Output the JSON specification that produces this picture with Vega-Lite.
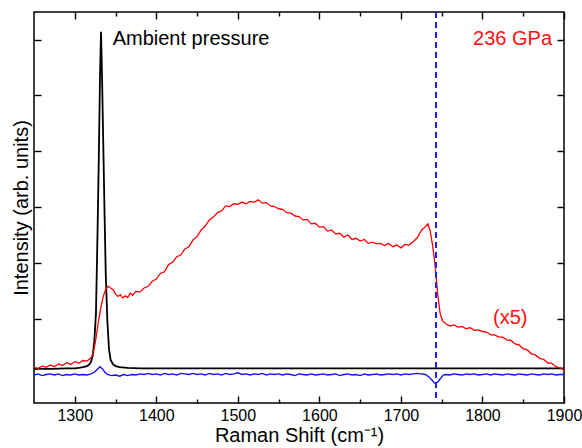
{
  "$schema": "https://vega.github.io/schema/vega-lite/v6.json",
  "width": 530,
  "height": 391,
  "autosize": {"type": "none"},
  "padding": {"left": 34, "top": 12, "right": 18, "bottom": 45},
  "background": "white",
  "config": {
    "view": {"stroke": "#000000", "strokeWidth": 1.5},
    "font": "Liberation Sans",
    "axis": {"domain": false, "grid": false, "tickColor": "#000000", "tickWidth": 1.4, "labelFont": "Liberation Sans", "titleFont": "Liberation Sans", "labelColor": "#000000", "titleColor": "#000000", "titleFontWeight": "normal"}
  },
  "datasets": {
    "spectra": [
        {"s":"236 GPa","x":1250,"y":0.13},{"s":"236 GPa","x":1255,"y":0.11},{"s":"236 GPa","x":1260,"y":0.15},{"s":"236 GPa","x":1265,"y":0.13},{"s":"236 GPa","x":1270,"y":0.17},{"s":"236 GPa","x":1275,"y":0.14},{"s":"236 GPa","x":1280,"y":0.19},{"s":"236 GPa","x":1285,"y":0.16},{"s":"236 GPa","x":1290,"y":0.21},{"s":"236 GPa","x":1295,"y":0.18},{"s":"236 GPa","x":1300,"y":0.23},{"s":"236 GPa","x":1305,"y":0.20},{"s":"236 GPa","x":1310,"y":0.25},{"s":"236 GPa","x":1315,"y":0.24},{"s":"236 GPa","x":1320,"y":0.30},{"s":"236 GPa","x":1323,"y":0.40},{"s":"236 GPa","x":1326,"y":0.65},{"s":"236 GPa","x":1329,"y":0.95},{"s":"236 GPa","x":1332,"y":1.20},{"s":"236 GPa","x":1335,"y":1.40},{"s":"236 GPa","x":1338,"y":1.53},{"s":"236 GPa","x":1341,"y":1.58},{"s":"236 GPa","x":1344,"y":1.55},{"s":"236 GPa","x":1347,"y":1.52},{"s":"236 GPa","x":1350,"y":1.44},{"s":"236 GPa","x":1353,"y":1.40},{"s":"236 GPa","x":1356,"y":1.43},{"s":"236 GPa","x":1359,"y":1.37},{"s":"236 GPa","x":1362,"y":1.41},{"s":"236 GPa","x":1365,"y":1.38},{"s":"236 GPa","x":1368,"y":1.46},{"s":"236 GPa","x":1371,"y":1.42},{"s":"236 GPa","x":1375,"y":1.49},{"s":"236 GPa","x":1380,"y":1.48},{"s":"236 GPa","x":1385,"y":1.55},{"s":"236 GPa","x":1390,"y":1.58},{"s":"236 GPa","x":1395,"y":1.67},{"s":"236 GPa","x":1400,"y":1.71},{"s":"236 GPa","x":1405,"y":1.81},{"s":"236 GPa","x":1410,"y":1.84},{"s":"236 GPa","x":1415,"y":1.97},{"s":"236 GPa","x":1420,"y":2.01},{"s":"236 GPa","x":1425,"y":2.11},{"s":"236 GPa","x":1430,"y":2.14},{"s":"236 GPa","x":1435,"y":2.25},{"s":"236 GPa","x":1440,"y":2.29},{"s":"236 GPa","x":1445,"y":2.41},{"s":"236 GPa","x":1450,"y":2.47},{"s":"236 GPa","x":1455,"y":2.59},{"s":"236 GPa","x":1460,"y":2.66},{"s":"236 GPa","x":1465,"y":2.77},{"s":"236 GPa","x":1470,"y":2.82},{"s":"236 GPa","x":1475,"y":2.90},{"s":"236 GPa","x":1480,"y":2.93},{"s":"236 GPa","x":1485,"y":3.02},{"s":"236 GPa","x":1490,"y":3.01},{"s":"236 GPa","x":1495,"y":3.06},{"s":"236 GPa","x":1500,"y":3.05},{"s":"236 GPa","x":1505,"y":3.09},{"s":"236 GPa","x":1510,"y":3.06},{"s":"236 GPa","x":1515,"y":3.10},{"s":"236 GPa","x":1520,"y":3.09},{"s":"236 GPa","x":1525,"y":3.13},{"s":"236 GPa","x":1530,"y":3.07},{"s":"236 GPa","x":1535,"y":3.08},{"s":"236 GPa","x":1540,"y":3.02},{"s":"236 GPa","x":1545,"y":3.01},{"s":"236 GPa","x":1550,"y":2.97},{"s":"236 GPa","x":1555,"y":2.96},{"s":"236 GPa","x":1560,"y":2.90},{"s":"236 GPa","x":1565,"y":2.89},{"s":"236 GPa","x":1570,"y":2.84},{"s":"236 GPa","x":1575,"y":2.83},{"s":"236 GPa","x":1580,"y":2.77},{"s":"236 GPa","x":1585,"y":2.78},{"s":"236 GPa","x":1590,"y":2.70},{"s":"236 GPa","x":1595,"y":2.71},{"s":"236 GPa","x":1600,"y":2.64},{"s":"236 GPa","x":1605,"y":2.65},{"s":"236 GPa","x":1610,"y":2.57},{"s":"236 GPa","x":1615,"y":2.59},{"s":"236 GPa","x":1620,"y":2.52},{"s":"236 GPa","x":1625,"y":2.53},{"s":"236 GPa","x":1630,"y":2.46},{"s":"236 GPa","x":1635,"y":2.50},{"s":"236 GPa","x":1640,"y":2.42},{"s":"236 GPa","x":1645,"y":2.44},{"s":"236 GPa","x":1650,"y":2.39},{"s":"236 GPa","x":1655,"y":2.42},{"s":"236 GPa","x":1660,"y":2.35},{"s":"236 GPa","x":1665,"y":2.37},{"s":"236 GPa","x":1670,"y":2.34},{"s":"236 GPa","x":1675,"y":2.35},{"s":"236 GPa","x":1680,"y":2.31},{"s":"236 GPa","x":1685,"y":2.35},{"s":"236 GPa","x":1690,"y":2.29},{"s":"236 GPa","x":1695,"y":2.32},{"s":"236 GPa","x":1700,"y":2.27},{"s":"236 GPa","x":1705,"y":2.33},{"s":"236 GPa","x":1710,"y":2.32},{"s":"236 GPa","x":1715,"y":2.38},{"s":"236 GPa","x":1720,"y":2.45},{"s":"236 GPa","x":1725,"y":2.58},{"s":"236 GPa","x":1730,"y":2.65},{"s":"236 GPa","x":1733,"y":2.70},{"s":"236 GPa","x":1736,"y":2.57},{"s":"236 GPa","x":1739,"y":2.30},{"s":"236 GPa","x":1742,"y":1.95},{"s":"236 GPa","x":1745,"y":1.45},{"s":"236 GPa","x":1748,"y":1.10},{"s":"236 GPa","x":1751,"y":0.96},{"s":"236 GPa","x":1755,"y":0.91},{"s":"236 GPa","x":1760,"y":0.87},{"s":"236 GPa","x":1765,"y":0.89},{"s":"236 GPa","x":1770,"y":0.85},{"s":"236 GPa","x":1775,"y":0.86},{"s":"236 GPa","x":1780,"y":0.82},{"s":"236 GPa","x":1785,"y":0.84},{"s":"236 GPa","x":1790,"y":0.79},{"s":"236 GPa","x":1795,"y":0.80},{"s":"236 GPa","x":1800,"y":0.77},{"s":"236 GPa","x":1805,"y":0.76},{"s":"236 GPa","x":1810,"y":0.71},{"s":"236 GPa","x":1815,"y":0.71},{"s":"236 GPa","x":1820,"y":0.67},{"s":"236 GPa","x":1825,"y":0.67},{"s":"236 GPa","x":1830,"y":0.62},{"s":"236 GPa","x":1835,"y":0.61},{"s":"236 GPa","x":1840,"y":0.55},{"s":"236 GPa","x":1845,"y":0.53},{"s":"236 GPa","x":1850,"y":0.46},{"s":"236 GPa","x":1855,"y":0.44},{"s":"236 GPa","x":1860,"y":0.37},{"s":"236 GPa","x":1865,"y":0.35},{"s":"236 GPa","x":1870,"y":0.29},{"s":"236 GPa","x":1875,"y":0.27},{"s":"236 GPa","x":1880,"y":0.21},{"s":"236 GPa","x":1885,"y":0.20},{"s":"236 GPa","x":1890,"y":0.14},{"s":"236 GPa","x":1895,"y":0.12},{"s":"236 GPa","x":1900,"y":0.08},
        {"s":"ambient","x":1250,"y":0.10},{"s":"ambient","x":1270,"y":0.10},{"s":"ambient","x":1290,"y":0.11},{"s":"ambient","x":1300,"y":0.11},{"s":"ambient","x":1305,"y":0.12},{"s":"ambient","x":1310,"y":0.13},{"s":"ambient","x":1315,"y":0.15},{"s":"ambient","x":1318,"y":0.18},{"s":"ambient","x":1320,"y":0.23},{"s":"ambient","x":1322,"y":0.34},{"s":"ambient","x":1324,"y":0.6},{"s":"ambient","x":1326,"y":1.1},{"s":"ambient","x":1328,"y":2.6},{"s":"ambient","x":1329.5,"y":3.9},{"s":"ambient","x":1331,"y":5.4},{"s":"ambient","x":1332.2,"y":6.14},{"s":"ambient","x":1333.5,"y":5.3},{"s":"ambient","x":1335,"y":4.1},{"s":"ambient","x":1336.5,"y":2.9},{"s":"ambient","x":1338,"y":1.8},{"s":"ambient","x":1340,"y":0.95},{"s":"ambient","x":1342,"y":0.45},{"s":"ambient","x":1344,"y":0.26},{"s":"ambient","x":1347,"y":0.18},{"s":"ambient","x":1350,"y":0.15},{"s":"ambient","x":1355,"y":0.13},{"s":"ambient","x":1365,"y":0.12},{"s":"ambient","x":1380,"y":0.11},{"s":"ambient","x":1500,"y":0.11},{"s":"ambient","x":1700,"y":0.11},{"s":"ambient","x":1900,"y":0.11},
        {"s":"difference","x":1250,"y":-0.01},{"s":"difference","x":1255,"y":0.01},{"s":"difference","x":1260,"y":-0.02},{"s":"difference","x":1265,"y":0.0},{"s":"difference","x":1270,"y":0.01},{"s":"difference","x":1275,"y":-0.01},{"s":"difference","x":1280,"y":0.01},{"s":"difference","x":1285,"y":-0.02},{"s":"difference","x":1290,"y":0.0},{"s":"difference","x":1295,"y":-0.01},{"s":"difference","x":1300,"y":0.01},{"s":"difference","x":1305,"y":-0.01},{"s":"difference","x":1310,"y":0.0},{"s":"difference","x":1315,"y":-0.01},{"s":"difference","x":1320,"y":0.01},{"s":"difference","x":1324,"y":0.04},{"s":"difference","x":1328,"y":0.10},{"s":"difference","x":1331,"y":0.14},{"s":"difference","x":1334,"y":0.10},{"s":"difference","x":1337,"y":0.04},{"s":"difference","x":1340,"y":0.0},{"s":"difference","x":1345,"y":-0.02},{"s":"difference","x":1350,"y":-0.01},{"s":"difference","x":1355,"y":-0.03},{"s":"difference","x":1360,"y":0.0},{"s":"difference","x":1365,"y":-0.02},{"s":"difference","x":1370,"y":0.0},{"s":"difference","x":1375,"y":-0.01},{"s":"difference","x":1380,"y":0.01},{"s":"difference","x":1385,"y":0.0},{"s":"difference","x":1390,"y":0.02},{"s":"difference","x":1395,"y":0.0},{"s":"difference","x":1400,"y":0.01},{"s":"difference","x":1405,"y":-0.01},{"s":"difference","x":1410,"y":0.02},{"s":"difference","x":1415,"y":0.0},{"s":"difference","x":1420,"y":0.01},{"s":"difference","x":1425,"y":-0.01},{"s":"difference","x":1430,"y":0.02},{"s":"difference","x":1435,"y":0.01},{"s":"difference","x":1440,"y":0.0},{"s":"difference","x":1445,"y":0.02},{"s":"difference","x":1450,"y":0.0},{"s":"difference","x":1455,"y":0.01},{"s":"difference","x":1460,"y":-0.01},{"s":"difference","x":1465,"y":0.02},{"s":"difference","x":1470,"y":0.0},{"s":"difference","x":1475,"y":0.01},{"s":"difference","x":1480,"y":-0.01},{"s":"difference","x":1485,"y":0.02},{"s":"difference","x":1490,"y":0.0},{"s":"difference","x":1495,"y":0.01},{"s":"difference","x":1500,"y":0.03},{"s":"difference","x":1505,"y":0.0},{"s":"difference","x":1510,"y":0.01},{"s":"difference","x":1515,"y":-0.01},{"s":"difference","x":1520,"y":0.01},{"s":"difference","x":1525,"y":0.0},{"s":"difference","x":1530,"y":0.02},{"s":"difference","x":1535,"y":-0.01},{"s":"difference","x":1540,"y":0.01},{"s":"difference","x":1545,"y":0.0},{"s":"difference","x":1550,"y":0.01},{"s":"difference","x":1555,"y":-0.01},{"s":"difference","x":1560,"y":0.01},{"s":"difference","x":1565,"y":0.0},{"s":"difference","x":1570,"y":-0.02},{"s":"difference","x":1575,"y":0.01},{"s":"difference","x":1580,"y":0.0},{"s":"difference","x":1585,"y":-0.01},{"s":"difference","x":1590,"y":0.01},{"s":"difference","x":1595,"y":-0.01},{"s":"difference","x":1600,"y":0.0},{"s":"difference","x":1605,"y":0.01},{"s":"difference","x":1610,"y":-0.01},{"s":"difference","x":1615,"y":0.0},{"s":"difference","x":1620,"y":0.01},{"s":"difference","x":1625,"y":-0.02},{"s":"difference","x":1630,"y":0.0},{"s":"difference","x":1635,"y":0.01},{"s":"difference","x":1640,"y":-0.01},{"s":"difference","x":1645,"y":0.0},{"s":"difference","x":1650,"y":-0.02},{"s":"difference","x":1655,"y":0.01},{"s":"difference","x":1660,"y":-0.01},{"s":"difference","x":1665,"y":0.0},{"s":"difference","x":1670,"y":0.01},{"s":"difference","x":1675,"y":-0.01},{"s":"difference","x":1680,"y":0.0},{"s":"difference","x":1685,"y":0.01},{"s":"difference","x":1690,"y":0.0},{"s":"difference","x":1695,"y":0.01},{"s":"difference","x":1700,"y":-0.01},{"s":"difference","x":1705,"y":0.01},{"s":"difference","x":1710,"y":0.0},{"s":"difference","x":1715,"y":0.01},{"s":"difference","x":1720,"y":0.02},{"s":"difference","x":1725,"y":0.01},{"s":"difference","x":1730,"y":0.0},{"s":"difference","x":1734,"y":-0.04},{"s":"difference","x":1738,"y":-0.10},{"s":"difference","x":1741,"y":-0.15},{"s":"difference","x":1743,"y":-0.16},{"s":"difference","x":1746,"y":-0.12},{"s":"difference","x":1749,"y":-0.06},{"s":"difference","x":1752,"y":-0.01},{"s":"difference","x":1755,"y":0.0},{"s":"difference","x":1760,"y":-0.01},{"s":"difference","x":1765,"y":0.01},{"s":"difference","x":1770,"y":0.0},{"s":"difference","x":1775,"y":-0.01},{"s":"difference","x":1780,"y":0.01},{"s":"difference","x":1785,"y":0.0},{"s":"difference","x":1790,"y":0.01},{"s":"difference","x":1795,"y":-0.01},{"s":"difference","x":1800,"y":0.0},{"s":"difference","x":1805,"y":0.01},{"s":"difference","x":1810,"y":-0.01},{"s":"difference","x":1815,"y":0.01},{"s":"difference","x":1820,"y":0.0},{"s":"difference","x":1825,"y":-0.01},{"s":"difference","x":1830,"y":0.01},{"s":"difference","x":1835,"y":0.0},{"s":"difference","x":1840,"y":-0.01},{"s":"difference","x":1845,"y":0.01},{"s":"difference","x":1850,"y":0.0},{"s":"difference","x":1855,"y":-0.01},{"s":"difference","x":1860,"y":0.01},{"s":"difference","x":1865,"y":0.0},{"s":"difference","x":1870,"y":-0.01},{"s":"difference","x":1875,"y":0.01},{"s":"difference","x":1880,"y":0.0},{"s":"difference","x":1885,"y":0.01},{"s":"difference","x":1890,"y":-0.01},{"s":"difference","x":1895,"y":0.0},{"s":"difference","x":1900,"y":0.0}
    ]
  },
  "layer": [
    {
      "data": {"name": "spectra"},
      "transform": [{"filter": "datum.s === 'difference'"}],
      "mark": {"type": "line", "strokeWidth": 1.4, "color": "#1010ff", "clip": true},
      "encoding": {
        "x": {"field": "x", "type": "quantitative", "scale": {"domain": [1250, 1900], "nice": false, "zero": false},
          "axis": {"orient": "bottom", "values": [1300,1350,1400,1450,1500,1550,1600,1650,1700,1750,1800,1850,1900], "format": "d",
            "tickSize": {"condition": {"test": "datum.value % 100 === 0", "value": -7}, "value": -4},
            "labelExpr": "datum.value % 100 === 0 ? datum.label : ''", "labelPadding": 11, "labelFontSize": 16, "labelFlush": false,
            "title": "Raman Shift (cm⁻¹)", "titleFontSize": 20, "titlePadding": 2}},
        "y": {"field": "y", "type": "quantitative", "scale": {"domain": [-0.511, 6.496], "nice": false, "zero": false},
          "axis": {"orient": "left", "values": [1,2,3,4,5,6], "labels": false, "tickSize": -7, "title": "Intensity (arb. units)", "titleFontSize": 20, "titlePadding": 2}}
      }
    },
    {
      "data": {"name": "spectra"},
      "transform": [{"filter": "datum.s === 'ambient'"}],
      "mark": {"type": "line", "strokeWidth": 1.8, "color": "#000000", "clip": true},
      "encoding": {
        "x": {"field": "x", "type": "quantitative", "axis": null},
        "y": {"field": "y", "type": "quantitative", "axis": null}
      }
    },
    {
      "data": {"name": "spectra"},
      "transform": [{"filter": "datum.s === '236 GPa'"}],
      "mark": {"type": "line", "strokeWidth": 1.3, "color": "#ff0000", "clip": true},
      "encoding": {
        "x": {"field": "x", "type": "quantitative", "axis": null},
        "y": {"field": "y", "type": "quantitative", "axis": null}
      }
    },
    {
      "data": {"values": [{"x": 1743}]},
      "mark": {"type": "rule", "color": "#2020ff", "strokeWidth": 2, "strokeDash": [6, 4]},
      "encoding": {
        "x": {"field": "x", "type": "quantitative",
          "axis": {"orient": "top", "values": [1300,1350,1400,1450,1500,1550,1600,1650,1700,1750,1800,1850,1900],
            "tickSize": {"condition": {"test": "datum.value % 100 === 0", "value": -7}, "value": -4},
            "labels": false, "title": null}}
      }
    },
    {
      "data": {"values": [{"label": "236 GPa", "x": 1885.3, "y": 5.905}]},
      "mark": {"type": "text", "color": "#ff1010", "fontSize": 20, "font": "Liberation Sans", "align": "right", "baseline": "alphabetic"},
      "encoding": {
        "x": {"field": "x", "type": "quantitative", "axis": null},
        "y": {"field": "y", "type": "quantitative", "axis": {"orient": "right", "values": [1,2,3,4,5,6], "labels": false, "tickSize": -7, "title": null}},
        "text": {"field": "label"}
      }
    },
    {
      "data": {"values": [{"label": "(x5)", "x": 1812.9, "y": 0.905}]},
      "mark": {"type": "text", "color": "#ff1010", "fontSize": 20, "font": "Liberation Sans", "align": "left", "baseline": "alphabetic"},
      "encoding": {
        "x": {"field": "x", "type": "quantitative", "axis": null},
        "y": {"field": "y", "type": "quantitative", "axis": null},
        "text": {"field": "label"}
      }
    },
    {
      "data": {"values": [{"label": "Ambient pressure", "x": 1346.5, "y": 5.905}]},
      "mark": {"type": "text", "color": "#000000", "fontSize": 20, "font": "Liberation Sans", "align": "left", "baseline": "alphabetic"},
      "encoding": {
        "x": {"field": "x", "type": "quantitative", "axis": null},
        "y": {"field": "y", "type": "quantitative", "axis": null},
        "text": {"field": "label"}
      }
    }
  ],
  "resolve": {"axis": {"x": "independent", "y": "independent"}}
}
